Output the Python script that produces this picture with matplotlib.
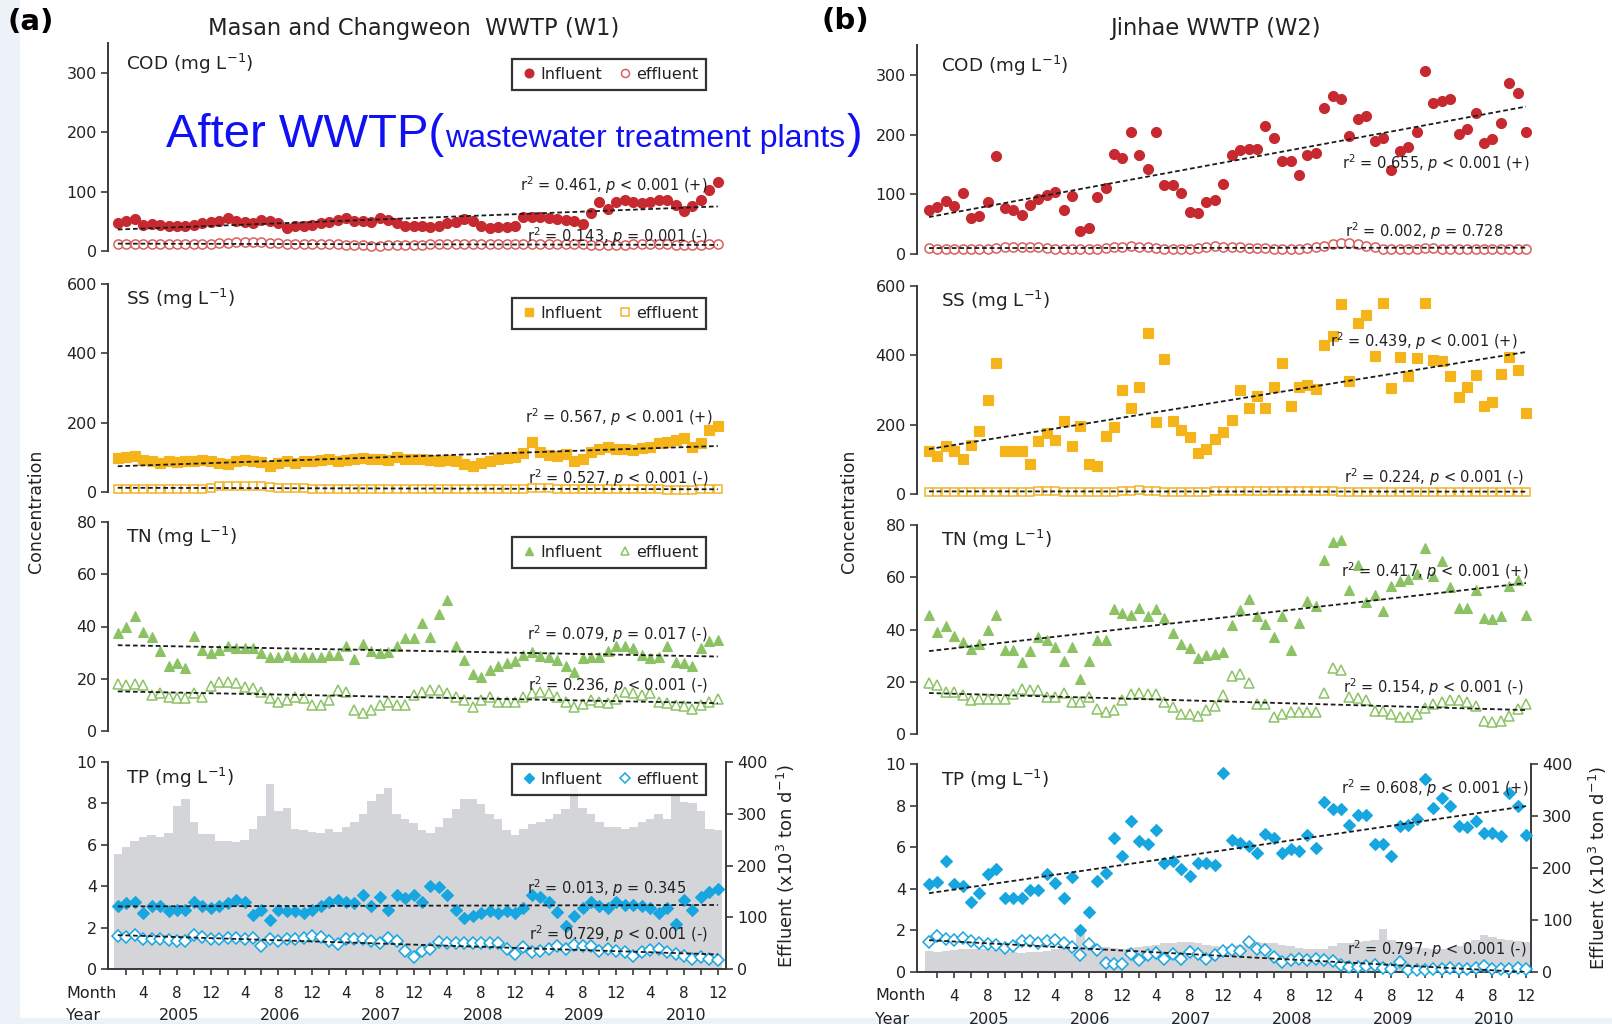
import numpy as np
import matplotlib
matplotlib.use("Agg")
import matplotlib.pyplot as plt
from matplotlib import font_manager
from matplotlib.lines import Line2D
from matplotlib.patches import Rectangle

plt.rcParams['font.family'] = ['DejaVu Sans']
plt.rcParams['mathtext.default'] = 'regular'

# ---------------- data ----------------
months = np.arange(1, 73)
tick_months = np.arange(4, 73, 4)
minor_tick_months = np.arange(2, 73, 2)
tick_month_labels = ['4', '8', '12'] * 6
years = ['2005', '2006', '2007', '2008', '2009', '2010']

cod_w1_in = [47, 51, 54, 44, 46, 44, 42, 42, 42, 44, 47, 49,
             51, 56, 50, 49, 47, 52, 51, 47, 39, 42, 42, 43,
             47, 48, 52, 56, 51, 50, 49, 56, 53, 47, 42, 42,
             42, 41, 42, 47, 49, 54, 50, 42, 39, 40, 41, 42,
             58, 58, 58, 56, 54, 52, 50, 46, 64, 83, 71, 82,
             85, 82, 80, 83, 86, 86, 78, 68, 75, 86, 103, 116]
cod_w1_ef = [12, 12, 12, 12, 12, 11, 11, 11, 11, 11, 12, 12,
             14, 14, 15, 15, 15, 15, 14, 13, 12, 12, 12, 12,
             11, 11, 11, 10, 10, 10, 9, 9, 10, 10, 10, 10,
             10, 11, 11, 11, 11, 11, 11, 11, 11, 11, 11, 11,
             11, 11, 11, 12, 12, 12, 12, 11, 10, 10, 10, 10,
             10, 11, 11, 11, 11, 11, 10, 10, 10, 10, 11, 11]
cod_w2_in = [74, 78, 89, 80, 102, 61, 63, 87, 164, 77, 73, 65,
             82, 92, 98, 103, 74, 97, 39, 43, 95, 110, 168, 160,
             204, 165, 142, 204, 115, 115, 102, 70, 69, 87, 90, 118,
             165, 174, 176, 176, 215, 194, 155, 155, 132, 165, 169, 245,
             264, 259, 198, 226, 231, 190, 194, 141, 173, 179, 204, 306,
             253, 257, 259, 201, 209, 236, 186, 193, 220, 286, 269, 205]
cod_w2_ef = [10, 9, 9, 8, 8, 8, 8, 9, 10, 12, 12, 12,
             11, 11, 10, 9, 9, 8, 8, 9, 9, 10, 11, 12,
             13, 12, 11, 10, 9, 8, 8, 9, 10, 12, 13, 12,
             11, 11, 10, 10, 10, 9, 9, 9, 9, 10, 11, 14,
             17, 18, 18, 16, 14, 12, 9, 8, 8, 8, 9, 10,
             10, 9, 9, 9, 9, 9, 9, 9, 9, 9, 9, 9]

ss_w1_in = [97, 100, 104, 92, 88, 85, 90, 86, 88, 90, 92, 88,
            85, 80, 88, 92, 90, 86, 75, 85, 88, 85, 88, 90,
            92, 95, 88, 92, 95, 98, 96, 95, 92, 100, 95, 96,
            95, 92, 90, 92, 88, 80, 75, 85, 90, 95, 98, 100,
            112, 145, 115, 108, 105, 110, 90, 95, 115, 125, 130, 125,
            125, 120, 128, 130, 140, 145, 150, 155, 130, 140, 180, 190]
ss_w1_ef = [10, 10, 10, 9, 9, 9, 10, 10, 10, 10, 10, 12,
            16, 17, 18, 18, 17, 16, 14, 12, 12, 12, 11, 10,
            10, 9, 9, 8, 8, 8, 9, 9, 9, 9, 9, 9,
            9, 9, 9, 9, 9, 9, 10, 10, 10, 10, 10, 10,
            10, 12, 12, 11, 10, 10, 10, 9, 9, 8, 8, 8,
            8, 8, 8, 8, 8, 7, 7, 7, 7, 8, 8, 8]
ss_w2_in = [124, 110, 139, 124, 100, 142, 182, 272, 378, 124, 124, 124,
            87, 154, 175, 156, 211, 139, 197, 87, 82, 168, 193, 299,
            248, 309, 465, 209, 388, 211, 185, 164, 118, 129, 158, 178,
            214, 301, 248, 282, 248, 309, 378, 255, 309, 315, 303, 431,
            455, 549, 325, 494, 515, 397, 552, 306, 394, 339, 392, 552,
            386, 383, 339, 279, 309, 344, 255, 264, 346, 395, 359, 235]
ss_w2_ef = [6, 7, 7, 7, 6, 6, 6, 6, 6, 6, 7, 7,
            7, 8, 10, 8, 7, 7, 7, 7, 7, 6, 6, 8,
            10, 11, 10, 8, 7, 7, 6, 6, 6, 7, 8, 9,
            10, 10, 10, 9, 9, 8, 8, 8, 8, 8, 8, 8,
            8, 7, 7, 7, 7, 7, 7, 6, 6, 6, 6, 6,
            6, 6, 6, 6, 6, 6, 6, 6, 6, 6, 6, 6]

tn_w1_in = [37.6, 40.0, 44.0, 38.0, 36.0, 30.5, 25.0, 26.0, 24.0, 36.5, 31.0, 30.0,
            31.0, 32.4, 31.8, 31.8, 31.8, 29.8, 28.5, 28.5, 29.2, 28.5, 28.5, 28.5,
            28.5, 29.2, 29.2, 32.4, 27.5, 33.4, 30.5, 29.8, 30.1, 32.4, 35.6, 35.6,
            41.4, 36.0, 44.6, 50.0, 32.7, 27.3, 22.0, 20.8, 23.4, 24.7, 26.0, 26.9,
            29.2, 30.1, 28.8, 28.3, 27.3, 24.7, 22.4, 27.9, 28.5, 28.5, 30.5, 32.4,
            32.4, 31.8, 29.2, 27.9, 28.5, 32.4, 26.6, 26.2, 24.7, 31.8, 34.3, 35.0]
tn_w1_ef = [17.9, 17.6, 17.9, 17.6, 13.8, 14.7, 13.1, 12.5, 12.5, 14.4, 13.1, 17.2,
            18.9, 18.9, 18.3, 17.0, 16.3, 15.0, 12.5, 11.2, 11.8, 13.1, 12.5, 9.9,
            9.9, 11.8, 15.7, 15.0, 8.0, 6.7, 8.2, 9.9, 11.2, 9.9, 9.9, 13.8,
            15.0, 15.7, 15.7, 14.7, 13.1, 11.8, 9.3, 11.8, 13.1, 11.2, 11.2, 11.2,
            13.1, 14.4, 15.0, 14.4, 13.1, 11.2, 9.3, 10.5, 11.8, 11.2, 10.8, 12.1,
            15.0, 14.4, 13.8, 14.4, 11.2, 10.8, 9.9, 9.5, 8.6, 9.9, 11.2, 12.1]
tn_w2_in = [45.6, 39.0, 41.4, 37.5, 35.3, 32.4, 34.4, 39.8, 45.6, 32.1, 32.1, 27.6,
            31.9, 37.0, 36.0, 33.2, 27.9, 33.4, 21.2, 27.9, 36.0, 36.0, 47.8, 46.3,
            45.6, 48.2, 45.2, 47.8, 44.3, 38.6, 34.4, 32.8, 28.9, 30.2, 30.6, 31.5,
            41.8, 47.6, 51.7, 45.0, 42.2, 37.0, 45.0, 32.1, 42.4, 51.0, 49.1, 66.6,
            73.5, 74.3, 55.0, 64.5, 50.5, 53.3, 46.9, 56.8, 58.5, 59.4, 61.4, 71.3,
            60.4, 66.2, 56.3, 48.2, 48.2, 55.3, 44.3, 44.0, 45.0, 56.8, 59.1, 45.6]
tn_w2_ef = [19.5, 18.6, 16.0, 16.0, 14.8, 12.9, 13.5, 13.5, 13.5, 13.5, 15.4, 17.4,
            17.0, 17.0, 14.1, 14.1, 15.7, 12.2, 12.2, 14.1, 9.6, 8.6, 9.0, 13.1,
            15.4, 15.7, 15.4, 15.2, 12.2, 10.3, 7.7, 7.5, 6.7, 9.0, 10.9, 14.8,
            22.1, 23.1, 19.5, 11.3, 11.3, 6.4, 7.7, 8.4, 8.6, 8.6, 8.6, 15.7,
            25.1, 24.4, 14.1, 13.9, 12.9, 8.7, 8.7, 7.7, 6.4, 6.4, 7.7, 10.0,
            11.6, 12.2, 12.9, 12.9, 12.2, 10.9, 5.1, 4.5, 5.1, 6.7, 9.6, 11.3]

tp_w1_in = [3.03, 3.18, 3.26, 2.70, 3.03, 3.03, 2.79, 2.87, 2.87, 3.26, 3.06, 2.95,
            3.06, 3.18, 3.34, 3.26, 2.63, 2.87, 2.39, 2.87, 2.79, 2.79, 2.70, 2.87,
            3.03, 3.26, 3.34, 3.26, 3.18, 3.58, 3.06, 3.50, 2.83, 3.58, 3.42, 3.58,
            3.22, 4.03, 3.98, 3.58, 2.87, 2.47, 2.55, 2.70, 2.79, 2.70, 2.79, 2.70,
            2.95, 3.58, 3.50, 3.26, 2.74, 2.07, 2.55, 2.95, 3.26, 3.03, 2.95, 3.26,
            3.11, 3.11, 3.03, 2.95, 2.70, 2.95, 2.15, 3.34, 2.87, 3.50, 3.74, 3.85]
tp_w1_ef = [1.59, 1.56, 1.62, 1.46, 1.46, 1.46, 1.40, 1.35, 1.35, 1.62, 1.56, 1.43,
            1.43, 1.51, 1.51, 1.46, 1.51, 1.11, 1.46, 1.35, 1.43, 1.43, 1.51, 1.59,
            1.56, 1.35, 1.19, 1.43, 1.43, 1.43, 1.35, 1.27, 1.51, 1.35, 0.88, 0.56,
            0.88, 0.99, 1.31, 1.27, 1.24, 1.24, 1.24, 1.24, 1.27, 1.27, 0.96, 0.72,
            1.04, 0.80, 0.88, 0.96, 1.11, 0.99, 1.15, 1.11, 1.11, 0.88, 0.99, 0.88,
            0.83, 0.64, 0.80, 0.92, 0.99, 0.80, 0.72, 0.61, 0.48, 0.56, 0.48, 0.45]
flow_w1 = [222, 235, 248, 255, 258, 255, 262, 315, 328, 285, 260, 260,
           248, 248, 245, 250, 270, 295, 358, 305, 312, 270, 268, 265,
           262, 270, 265, 275, 285, 300, 325, 338, 350, 300, 290, 282,
           268, 262, 275, 292, 310, 328, 328, 318, 300, 290, 268, 258,
           270, 280, 285, 290, 300, 310, 355, 312, 300, 285, 275, 275,
           270, 275, 285, 290, 300, 290, 335, 322, 320, 305, 270, 268]
tp_w2_in = [4.22, 4.33, 5.33, 4.22, 4.14, 3.38, 3.82, 4.70, 4.94, 3.58, 3.58, 3.58,
            3.93, 3.93, 4.70, 4.30, 3.54, 4.59, 2.04, 2.87, 4.38, 4.78, 6.45, 5.60,
            7.25, 6.29, 6.13, 6.85, 5.25, 5.33, 4.94, 4.62, 5.25, 5.25, 5.13, 9.59,
            6.37, 6.21, 6.05, 5.73, 6.64, 6.45, 5.73, 5.89, 5.81, 6.61, 5.97, 8.15,
            7.83, 7.83, 7.09, 7.56, 7.56, 6.13, 6.13, 5.60, 7.04, 7.09, 7.36, 9.27,
            7.88, 8.36, 7.99, 7.04, 6.97, 7.25, 6.69, 6.69, 6.56, 8.60, 7.96, 6.61]
tp_w2_ef = [1.46, 1.72, 1.59, 1.54, 1.62, 1.51, 1.40, 1.35, 1.31, 1.15, 1.27, 1.51,
            1.51, 1.40, 1.51, 1.54, 1.40, 1.19, 0.83, 1.35, 1.04, 0.45, 0.40, 0.40,
            0.88, 0.56, 0.80, 0.91, 0.64, 0.88, 0.64, 0.96, 0.88, 0.64, 0.83, 0.99,
            1.04, 0.99, 1.46, 1.11, 1.08, 0.72, 0.48, 0.56, 0.61, 0.56, 0.61, 0.56,
            0.51, 0.32, 0.24, 0.24, 0.29, 0.32, 0.19, 0.16, 0.48, 0.08, 0.08, 0.08,
            0.13, 0.16, 0.19, 0.16, 0.16, 0.19, 0.29, 0.16, 0.13, 0.16, 0.19, 0.16]
flow_w2 = [40, 38, 40, 42, 44, 45, 45, 45, 42, 40, 38, 37,
           38, 38, 40, 44, 48, 50, 76, 52, 50, 48, 46, 45,
           46, 48, 50, 52, 55, 56, 57, 58, 55, 52, 50, 48,
           50, 52, 55, 57, 56, 55, 52, 50, 46, 44, 44, 45,
           50, 55, 56, 58, 60, 62, 82, 62, 58, 52, 48, 46,
           44, 44, 46, 50, 55, 62, 72, 68, 64, 62, 60, 58]

variables = ['COD', 'SS', 'TN', 'TP']
w1_r2 = ['0.461', '0.143', '0.567', '0.527', '0.079', '0.236', '0.013', '0.729']
w1_p = ['< 0.001 (+)', '= 0.001 (-)', '< 0.001 (+)', '< 0.001 (-)',
        '= 0.017 (-)', '< 0.001 (-)', '= 0.345', '< 0.001 (-)']
w2_r2 = ['0.655', '0.002', '0.439', '0.224', '0.417', '0.154', '0.608', '0.797']
w2_p = ['< 0.001 (+)', '= 0.728', '< 0.001 (+)', '< 0.001 (-)',
        '< 0.001 (+)', '< 0.001 (-)', '< 0.001 (+)', '< 0.001 (-)']

# ---------------- styling ----------------
W, H = 1612, 1024
fig = plt.figure(figsize=(W / 100, H / 100), dpi=100)

# faint screenshot tint at left and bottom edges
fig.patches.append(Rectangle((0, 0), 20 / W, 1, transform=fig.transFigure,
                             facecolor='#edf1f8', edgecolor='none', zorder=-10))
fig.patches.append(Rectangle((0, 0), 1, 6 / H, transform=fig.transFigure,
                             facecolor='#edf1f8', edgecolor='none', zorder=-10))

def rect(l, r, t, b):
    return [l / W, 1 - b / H, (r - l) / W, (b - t) / H]

columns = [
    dict(lr=(108, 726), rows=[(43, 251), (284, 492), (522, 731), (762, 969)],
         xlim=(-0.16, 72.97), data=[(cod_w1_in, cod_w1_ef), (ss_w1_in, ss_w1_ef),
                                    (tn_w1_in, tn_w1_ef), (tp_w1_in, tp_w1_ef)],
         flow=flow_w1, r2=w1_r2, p=w1_p, legend=True,
         stat_pos=[(70.8, 111), (70.8, 25), (71.4, 216), (70.9, 40),
                   (70.8, 36.9), (70.8, 17.6), (68.3, 3.9), (70.9, 1.67)]),
    dict(lr=(917, 1531), rows=[(45, 254), (286, 494), (525, 734), (764, 972)],
         xlim=(-0.43, 72.6), data=[(cod_w2_in, cod_w2_ef), (ss_w2_in, ss_w2_ef),
                                   (tn_w2_in, tn_w2_ef), (tp_w2_in, tp_w2_ef)],
         flow=flow_w2, r2=w2_r2, p=w2_p, legend=False,
         stat_pos=[(72.4, 152), (69.3, 39), (71.0, 441), (71.7, 50),
                   (72.3, 62.3), (71.7, 18), (72.3, 8.84), (72.0, 1.08)]),
]
ylims = [(0, 350), (0, 600), (0, 80), (0, 10)]
yticks = [[0, 100, 200, 300], [0, 200, 400, 600], [0, 20, 40, 60, 80], [0, 2, 4, 6, 8, 10]]
markers = ['o', 's', '^', 'D']
msizes = [7.2, 6.8, 7.2, 6.6]
fill_colors = ['#c62a30', '#f4b41a', '#8cc264', '#17a6df']
edge_colors = ['#d8605e', '#f0b429', '#8cc264', '#17a6df']
legend_tops = [0.923, 0.933, 0.928, 0.99]
label_off = [21, 15, 15, 16]
axis_col = '#3a3a3a'
txt_col = '#222222'

for ci, col in enumerate(columns):
    l, r = col['lr']
    for vi, (t, b) in enumerate(col['rows']):
        ax = fig.add_axes(rect(l, r, t, b))
        yin, yef = col['data'][vi]
        yin = np.asarray(yin, float)
        yef = np.asarray(yef, float)
        ax.set_xlim(*col['xlim'])
        ax.set_ylim(*ylims[vi])
        ax.set_yticks(yticks[vi])
        for s in ['top', 'right']:
            ax.spines[s].set_visible(False)
        ax.spines['left'].set_linewidth(1.4)
        ax.spines['left'].set_color(axis_col)
        ax.tick_params(axis='y', direction='out', length=5, width=1.2,
                       labelsize=11.5, colors=axis_col, labelcolor=txt_col, pad=3)
        ax.patch.set_visible(False)

        ax.plot(months, yin, ls='none', marker=markers[vi], ms=msizes[vi],
                mfc=fill_colors[vi], mec=fill_colors[vi], mew=0.8, zorder=3, clip_on=False)
        ax.plot(months, yef, ls='none', marker=markers[vi], ms=msizes[vi] - 0.6,
                mfc='white', mec=edge_colors[vi], mew=1.1, zorder=3, clip_on=False)
        for ser in (yin, yef):
            k, c0 = np.polyfit(months, ser, 1)
            ax.plot([1, 72], [c0 + k * 1, c0 + k * 72], color='#1c1c1c', lw=1.3,
                    ls=(0, (2.6, 1.6)), zorder=4)

        for j in range(2):
            sx, sy = col['stat_pos'][2 * vi + j]
            ax.text(sx, sy, 'r$^2$ = %s, $\\mathit{p}$ %s' % (col['r2'][2 * vi + j], col['p'][2 * vi + j]),
                    ha='right', va='center', fontsize=10.5, color=txt_col, zorder=5)

        ax.annotate('%s (mg L$^{-1}$)' % variables[vi], xy=(0, 1), xycoords='axes fraction',
                    xytext=(18 if ci == 0 else 24, -label_off[vi]), textcoords='offset pixels',
                    ha='left', va='center', fontsize=13.2, color=txt_col)

        if col['legend']:
            hs = [Line2D([], [], ls='none', marker=markers[vi], ms=msizes[vi] - 1,
                         mfc=fill_colors[vi], mec=fill_colors[vi]),
                  Line2D([], [], ls='none', marker=markers[vi], ms=msizes[vi] - 1.4,
                         mfc='white', mec=edge_colors[vi], mew=1.1)]
            leg = ax.legend(hs, ['Influent', 'effluent'], ncol=2, loc='upper right',
                            bbox_to_anchor=(0.968, legend_tops[vi]), frameon=True,
                            fancybox=False, edgecolor='black', fontsize=11.5,
                            handletextpad=0.15, columnspacing=0.9, borderpad=0.5,
                            handlelength=1.1, borderaxespad=0)
            leg.get_frame().set_linewidth(1.6)
            for tx in leg.get_texts():
                tx.set_color(txt_col)

        if vi < 3:
            ax.spines['bottom'].set_visible(False)
            ax.set_xticks([])
        else:
            ax.spines['bottom'].set_linewidth(1.4)
            ax.spines['bottom'].set_color(axis_col)
            ax.set_xticks(tick_months)
            ax.set_xticklabels(tick_month_labels)
            ax.set_xticks(minor_tick_months, minor=True)
            ax.tick_params(axis='x', which='both', direction='out', length=4, width=1.2,
                           labelsize=11, colors=axis_col, labelcolor=txt_col, pad=8)
            for k, yr in enumerate(years):
                ax.annotate(yr, xy=(12 * k + 8.2, 0), xycoords=('data', 'axes fraction'),
                            xytext=(0, -47), textcoords='offset pixels', ha='center',
                            va='center', fontsize=11.5, color=txt_col)
            ax.annotate('Month', xy=(0, 0), xycoords='axes fraction', xytext=(-42, -24),
                        textcoords='offset pixels', ha='left', va='center',
                        fontsize=11.5, color=txt_col)
            ax.annotate('Year', xy=(0, 0), xycoords='axes fraction', xytext=(-42, -47),
                        textcoords='offset pixels', ha='left', va='center',
                        fontsize=11.5, color=txt_col)
            tw = ax.twinx()
            tw.bar(months, col['flow'], width=1.0, color='#d3d5d9', linewidth=0)
            tw.set_ylim(0, 400)
            tw.set_yticks([0, 100, 200, 300, 400])
            for s in ['top', 'left', 'bottom']:
                tw.spines[s].set_visible(False)
            tw.spines['right'].set_linewidth(1.4)
            tw.spines['right'].set_color(axis_col)
            tw.tick_params(axis='y', direction='out', length=5, width=1.2,
                           labelsize=11.5, colors=axis_col, labelcolor=txt_col, pad=3)
            ax.set_zorder(tw.get_zorder() + 1)
            fig.text((r + 60 if ci == 0 else 1598) / W, 1 - (t + b) / 2 / H,
                     'Effluent (x10$^3$ ton d$^{-1}$)', rotation=90, ha='center',
                     va='center', fontsize=13, color=txt_col)

# titles and labels
fig.text(8 / W, 1 - 22 / H, '(a)', fontsize=21, fontweight='bold', ha='left', va='center')
fig.text(822 / W, 1 - 21 / H, '(b)', fontsize=21, fontweight='bold', ha='left', va='center')
fig.text(414 / W, 1 - 29 / H, 'Masan and Changweon  WWTP (W1)', fontsize=16.3,
         ha='center', va='center', color=txt_col)
fig.text(1215 / W, 1 - 29 / H, 'Jinhae WWTP (W2)', fontsize=16.3,
         ha='center', va='center', color=txt_col)
fig.text(36 / W, 1 - 511 / H, 'Concentration', rotation=90, fontsize=12.5,
         ha='center', va='center', color=txt_col)
fig.text(849 / W, 1 - 511 / H, 'Concentration', rotation=90, fontsize=12.5,
         ha='center', va='center', color=txt_col)

# overlay annotation
def has_font(name):
    try:
        font_manager.findfont(font_manager.FontProperties(family=name),
                              fallback_to_default=False)
        return True
    except Exception:
        return False

if has_font('Liberation Sans Narrow'):
    ofam, big, small = 'Liberation Sans Narrow', 41, 28
else:
    ofam, big, small = 'Liberation Sans', 34, 23
blue = '#1010f5'
base_y = 1 - 147 / H
t1 = fig.text(166 / W, base_y, 'After WWTP(', family=ofam, fontsize=big,
              color=blue, va='baseline', ha='left', zorder=10)
fig.canvas.draw()
rend = fig.canvas.get_renderer()
x1 = t1.get_window_extent(renderer=rend).x1
t2 = fig.text(x1 / W + 1 / W, base_y, 'wastewater treatment plants', family=ofam,
              fontsize=small, color=blue, va='baseline', ha='left', zorder=10)
x2 = t2.get_window_extent(renderer=rend).x1
fig.text(x2 / W + 1 / W, base_y, ')', family=ofam, fontsize=big, color=blue,
         va='baseline', ha='left', zorder=10)

fig.savefig('out.png', dpi=100)
